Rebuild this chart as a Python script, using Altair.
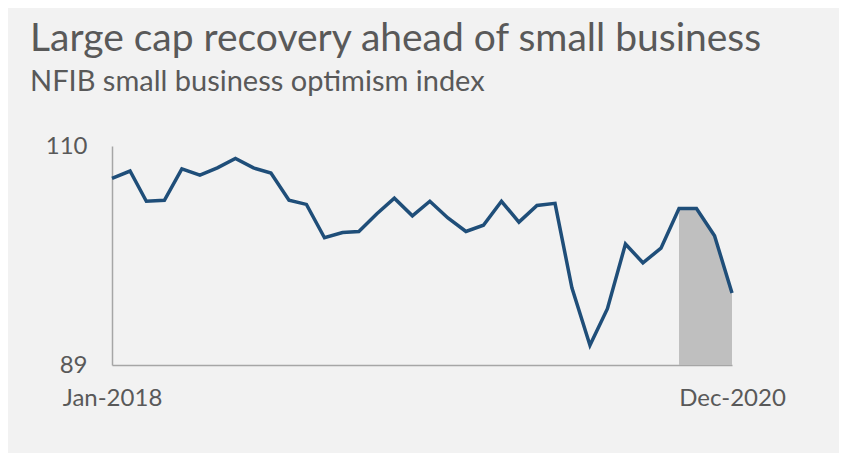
import altair as alt
import pandas as pd

# ---- data ----
months = [f"{y}-{m:02d}-01T00:00:00" for y in (2018, 2019, 2020) for m in range(1, 13)]
values = [106.9, 107.6, 104.7, 104.8, 107.8, 107.2, 107.9, 108.8, 107.9, 107.4, 104.8, 104.4,
          101.2, 101.7, 101.8, 103.5, 105.0, 103.3, 104.7, 103.1, 101.8, 102.4, 104.7, 102.7,
          104.3, 104.5, 96.4, 90.9, 94.4, 100.6, 98.8, 100.2, 104.0, 104.0, 101.4, 95.9]
shade_from = "2020-09-01T00:00:00"
y_ticks = [89, 110]
y_floor = 89
title_text = "Large cap recovery ahead of small business"
subtitle_text = "NFIB small business optimism index"

df = pd.DataFrame({"date": months, "value": values})
df_shade = df[df["date"] >= shade_from]

GRAY_TXT = "#595959"
x_start = alt.DateTime(year=2018, month=1, date=1)
x_end = alt.DateTime(year=2020, month=12, date=1)

x_enc = alt.X(
    "date:T",
    scale=alt.Scale(domain=[x_start, x_end], nice=False),
    axis=alt.Axis(values=[x_start, x_end], format="%b-%Y", labelFlush=False,
                  ticks=False, grid=False, domainColor="#a6a6a6", domainWidth=1.5,
                  labelFont="Lato", labelFontSize=24, labelColor=GRAY_TXT,
                  labelPadding=21, title=None, labelOverlap=False),
)
y_scale = alt.Scale(domain=[y_ticks[0], y_ticks[-1]], nice=False, zero=False)
y_axis = alt.Axis(values=y_ticks, ticks=False, grid=False, domainColor="#a6a6a6",
                  domainWidth=1.5, labelFont="Lato", labelFontSize=24,
                  labelColor=GRAY_TXT, labelPadding=25, title=None)

area = alt.Chart(df_shade).mark_area(color="#bfbfbf", opacity=1).encode(
    x=x_enc,
    y=alt.Y("value:Q", scale=y_scale, axis=y_axis),
    y2=alt.datum(y_floor),
)
line = alt.Chart(df).mark_line(color="#1f4e79", strokeWidth=3.5).encode(
    x=x_enc,
    y=alt.Y("value:Q", scale=y_scale, axis=y_axis),
)

chart = (area + line).properties(
    width=620,
    height=219,
    background="#f2f2f2",
    autosize=alt.AutoSizeParams(type="none"),
    padding={"left": 104, "top": 138, "right": 107, "bottom": 88},
    title=alt.TitleParams(
        text=title_text, subtitle=subtitle_text, anchor="start", frame="group",
        dx=-82, font="Lato", fontSize=39, fontWeight="normal", color=GRAY_TXT,
        subtitleFont="Lato", subtitleFontSize=29, subtitleFontWeight="normal",
        subtitleColor=GRAY_TXT, subtitlePadding=9, offset=37,
    ),
).configure_view(stroke=None)

chart.save("out.html", embed_options={"renderer": "svg", "actions": False})
